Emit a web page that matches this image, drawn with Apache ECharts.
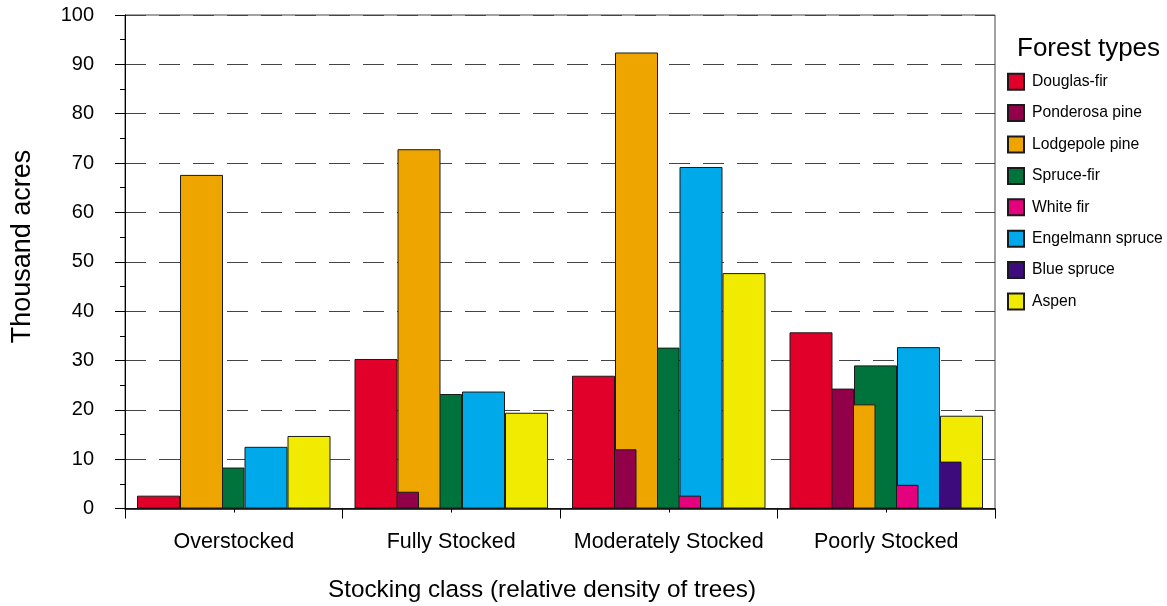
<!DOCTYPE html>
<html>
<head>
<meta charset="utf-8">
<script src="https://cdn.jsdelivr.net/npm/echarts@6/dist/echarts.min.js"></script>
<style>
html,body{margin:0;padding:0;background:#fff;}
#chart{width:1167px;height:606px;}
</style>
</head>
<body>
<div id="chart"></div>
<script>
var categories = ['Overstocked', 'Fully Stocked', 'Moderately Stocked', 'Poorly Stocked'];
var seriesNames = ['Douglas-fir', 'Ponderosa pine', 'Lodgepole pine', 'Spruce-fir', 'White fir', 'Engelmann spruce', 'Blue spruce', 'Aspen'];
var douglasFir = [2.6, 30.3, 26.9, 35.7];
var ponderosaPine = [0, 3.4, 12.0, 24.3];
var lodgepolePine = [67.6, 72.8, 92.4, 21.1];
var spruceFir = [8.3, 23.2, 32.6, 29.0];
var whiteFir = [0, 0, 2.6, 4.8];
var engelmannSpruce = [12.5, 23.7, 69.2, 32.7];
var blueSpruce = [0, 0, 0, 9.5];
var aspen = [14.7, 19.4, 47.7, 18.8];
var yTicks = [0, 10, 20, 30, 40, 50, 60, 70, 80, 90, 100];

var seriesData = [douglasFir, ponderosaPine, lodgepolePine, spruceFir, whiteFir, engelmannSpruce, blueSpruce, aspen];
var colors = ['#E00029', '#92004A', '#EEA500', '#00723B', '#E5007E', '#00AAEA', '#3E0B7C', '#F0EB00'];
var FONT = '"Liberation Sans", Arial, sans-serif';

var chart = echarts.init(document.getElementById('chart'), null, {renderer: 'canvas'});

var series = seriesNames.map(function (name, i) {
  return {
    name: name,
    type: 'bar',
    xAxisIndex: 0,
    yAxisIndex: 0,
    data: seriesData[i],
    barWidth: 43,
    barGap: '-50%',
    z: 20 - i,
    itemStyle: {color: colors[i], borderColor: '#1a1a1a', borderWidth: 1},
    emphasis: {disabled: true},
    animation: false
  };
});

var option = {
  animation: false,
  textStyle: {fontFamily: FONT},
  title: {
    text: 'Forest types',
    left: 1012,
    top: 31,
    textStyle: {fontFamily: FONT, fontSize: 26, fontWeight: 'normal', color: '#000'}
  },
  legend: {
    orient: 'vertical',
    left: 1002,
    top: 67.7,
    icon: 'rect',
    itemWidth: 16,
    itemHeight: 16,
    itemGap: 13.4,
    data: seriesNames,
    textStyle: {fontFamily: FONT, fontSize: 15.7, color: '#000', padding: [0, 0, 0, 3]},
    selectedMode: false
  },
  grid: {
    left: 125,
    top: 15,
    right: 172,
    bottom: 97.5,
    show: true,
    borderColor: '#444',
    borderWidth: 1,
    backgroundColor: 'transparent'
  },
  xAxis: [{
    type: 'category',
    data: categories,
    boundaryGap: true,
    axisLine: {show: true, lineStyle: {color: '#000', width: 1.5}},
    axisTick: {show: true, length: 10, lineStyle: {color: '#000'}},
    axisLabel: {fontFamily: FONT, fontSize: 21.5, color: '#000', margin: 23, interval: 0},
    splitLine: {show: false}
  }, {
    type: 'category',
    data: categories,
    position: 'bottom',
    boundaryGap: true,
    axisLine: {show: false},
    axisTick: {show: true, alignWithLabel: true, length: 4, lineStyle: {color: '#000'}},
    axisLabel: {show: false},
    splitLine: {show: false}
  }],
  yAxis: {
    type: 'value',
    min: yTicks[0],
    max: yTicks[yTicks.length - 1],
    interval: 10,
    axisLine: {show: true, lineStyle: {color: '#000', width: 1}},
    axisTick: {show: true, length: 10, lineStyle: {color: '#000'}},
    minorTick: {show: true, splitNumber: 2, length: 5, lineStyle: {color: '#000'}},
    axisLabel: {fontFamily: FONT, fontSize: 20, color: '#000', margin: 31},
    splitLine: {show: true, lineStyle: {color: '#444', width: 1, type: [21, 13]}}
  },
  graphic: [{
    type: 'text',
    x: 23,
    y: 246.5,
    rotation: Math.PI / 2,
    style: {text: 'Thousand acres', fontFamily: FONT, fontSize: 27, fill: '#000', textAlign: 'center', textVerticalAlign: 'middle'}
  }, {
    type: 'text',
    x: 542,
    y: 590,
    style: {text: 'Stocking class (relative density of trees)', fontFamily: FONT, fontSize: 24.3, fill: '#000', textAlign: 'center', textVerticalAlign: 'middle'}
  }],
  series: series
};
chart.setOption(option);
</script>
</body>
</html>
